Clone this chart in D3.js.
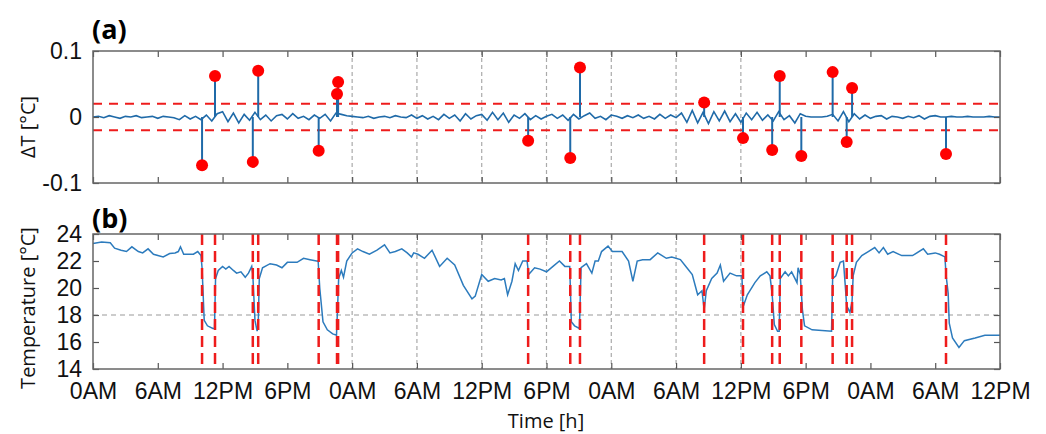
<!DOCTYPE html>
<html>
<head>
<meta charset="utf-8">
<script src="https://cdn.jsdelivr.net/npm/d3@7"></script>
<style>
  html, body { margin: 0; padding: 0; background: #fff; }
  svg { display: block; }
  .tick text { font-family: "Liberation Sans", Arial, sans-serif; font-size: 23px; fill: #111; }
  .tick line { stroke: #555; stroke-width: 1.2; }
</style>
</head>
<body>
<svg id="chart" width="1046" height="434"></svg>
<script>
// ---------------- DATA ----------------
const xTickHours = [0, 6, 12, 18, 24, 30, 36, 42, 48, 54, 60, 66, 72, 78, 84];
const xTickLabels = ["0AM", "6AM", "12PM", "6PM", "0AM", "6AM", "12PM", "6PM", "0AM", "6AM", "12PM", "6PM", "0AM", "6AM", "12PM"];
const gridHours = [24, 30, 36, 42, 48, 54, 60];

const dtTicks = [-0.1, 0, 0.1];
const dtTickLabels = ["-0.1", "0", "0.1"];
const dtThresholds = [0.02, -0.02];

const tempTicks = [14, 16, 18, 20, 22, 24];
const tempRefLine = [18];

// detected events: hour and ΔT peak
const eventHours = [10.1, 11.3, 14.8, 15.3, 20.9, 22.6, 22.7, 40.3, 44.2, 45.1, 56.6, 60.2, 62.9, 63.6, 65.6, 68.5, 69.8, 70.3, 79.0];
const eventDelta = [-0.073, 0.062, -0.068, 0.070, -0.051, 0.035, 0.053, -0.036, -0.062, 0.075, 0.022, -0.032, -0.050, 0.062, -0.059, 0.068, -0.038, 0.044, -0.056];

// ΔT background trace, one value every half hour from 0h to 84h
const deltaValues = [
  0, 0.001, -0.001, 0.002, 0, -0.002, 0.001, 0, 0.002, -0.001, 0, 0.001, -0.002, 0.001, 0, -0.001, -0.004, 0.002, -0.003, 0.001,
  -0.004, 0.003, -0.006, 0.005, 0.008, -0.007, 0.006, -0.009, 0.004, -0.005, 0.007, -0.004, 0.003, -0.006, 0.002, 0.004, -0.003, 0.005, -0.002, 0.001, -0.004, 0.003, -0.002, 0.004, -0.006,
  0.006, 0.004, 0.002, 0.001, 0, -0.001, 0.001, -0.002, 0, 0.001, -0.001, 0.002, 0, -0.001, 0.003, -0.002,
  0.002, -0.003, 0.001, -0.004, 0.004, -0.002, 0.003, -0.006, 0.005, -0.003, 0.002, 0.004, -0.005, 0.007, -0.004, 0.006, -0.008, 0.003, -0.002, 0.005, -0.004, 0.002, -0.003, 0.001, 0.004, -0.002, 0.003, -0.005,
  0.004, -0.003, 0.002, 0.006, -0.002, 0.001, -0.004, 0.003, 0.001, -0.002, 0.002, -0.001, 0.003, -0.002, 0.001, -0.003, 0.004, -0.002, 0.003, -0.001,
  0.006, -0.008, 0.010, -0.009, 0.007, -0.010, 0.008, -0.006, 0.009, -0.007, 0.005, -0.008, 0.006, -0.004, 0.007, -0.005, 0.003, -0.006, 0.008, -0.004, 0.002, -0.009, 0.005, 0.001, 0, 0, 0, 0.001, 0.004, -0.006, 0.008, -0.007, 0.005, -0.003,
  0.003, -0.002, 0.001, 0.002, -0.003, 0.001, 0, -0.002, 0.001, -0.001, 0.002, -0.003, 0.001, 0.002, 0, 0, 0.001, 0, 0, 0.001, 0, 0, 0, 0.001, 0, 0
];
const deltaHours = deltaValues.map((_, i) => i * 0.5);

// temperature trace
const tempHours = [
  0, 0.8, 1.6, 2.0, 2.6, 3.1, 3.6, 4.2, 4.6, 5.1, 5.6, 6.5, 7.1, 7.6, 7.9, 8.1, 8.4, 9.3, 9.7, 10.0,
  10.1, 10.3, 10.6, 11.1, 11.25, 11.35, 11.6, 12.0, 12.3, 12.6, 13.0, 13.3, 13.7, 14.1, 14.4, 14.7, 14.8,
  15.0, 15.2, 15.3, 15.4, 15.7, 16.4, 17.0, 17.5, 18.0, 18.9, 19.5, 20.1, 20.7, 20.85, 21.0, 21.3, 21.7,
  22.2, 22.55, 22.65, 22.75, 23.0, 23.2, 23.5, 24.0, 24.5, 25.0, 25.6, 26.3, 27.0, 27.5, 28.0, 28.6,
  29.1, 29.5, 29.7, 30.1, 30.7, 31.4, 32.1, 32.8, 33.5, 34.3, 35.1, 35.4, 36.0, 36.6, 37.2, 37.8, 38.1,
  38.4, 38.8, 39.1, 39.4, 39.8, 40.2, 40.35, 40.9, 41.4, 42.0, 42.6, 43.2, 43.7, 44.15, 44.3, 44.6, 45.05,
  45.2, 45.7, 46.2, 46.5, 46.8, 47.1, 47.7, 48.1, 49.0, 49.6, 50.0, 50.4, 50.9, 51.6, 52.3, 53.1, 53.6,
  54.4, 55.0, 55.5, 56.0, 56.4, 56.6, 56.8, 57.3, 57.8, 58.1, 58.4, 59.0, 59.6, 60.1, 60.2, 60.6, 61.3,
  61.8, 62.4, 62.7, 62.9, 63.1, 63.4, 63.55, 63.65, 64.1, 64.4, 64.7, 65.2, 65.3, 65.5, 65.7, 65.9, 66.6,
  68.4, 68.5, 68.8, 69.2, 69.5, 69.65, 69.8, 70.1, 70.3, 70.4, 70.7, 71.2, 71.8, 72.4, 72.8, 73.2, 73.6,
  74.1, 74.9, 75.9, 76.9, 77.3, 78.0, 78.4, 78.9, 79.0, 79.2, 79.3, 79.6, 80.2, 80.7, 81.7, 82.6, 84
];
const tempValues = [
  23.3, 23.4, 23.35, 22.95, 22.8, 22.7, 23.05, 22.7, 22.6, 22.9, 22.5, 22.3, 22.55, 22.6, 22.7, 23.05, 22.5, 22.5, 22.7, 22.4,
  21.5, 17.6, 17.2, 17.0, 17.0, 20.7, 21.3, 21.6, 21.4, 21.6, 21.3, 21.1, 21.2, 20.8, 21.1, 21.6, 21.0,
  17.6, 16.8, 17.2, 20.7, 21.5, 21.8, 21.7, 21.5, 21.9, 21.9, 22.2, 22.1, 22.0, 22.0, 20.0, 17.5, 16.9,
  16.6, 16.5, 18.5, 20.7, 21.3, 20.8, 22.0, 22.6, 22.9, 22.7, 22.5, 22.8, 23.2, 22.6, 22.7, 22.9,
  22.6, 22.3, 22.6, 22.5, 22.2, 22.8, 21.6, 22.2, 21.7, 20.2, 19.2, 19.4, 21.0, 20.5, 20.7, 20.6, 20.7,
  19.5, 20.5, 21.8, 21.3, 22.0, 22.0, 21.0, 21.5, 21.4, 21.2, 21.6, 22.0, 21.6, 21.6, 17.5, 17.2, 17.0,
  21.5, 21.8, 21.1, 22.0, 22.0, 22.7, 23.1, 22.7, 22.7, 22.0, 20.5, 22.0, 22.1, 22.1, 22.6, 22.2, 22.3,
  22.1, 21.5, 21.0, 19.5, 19.8, 18.4, 19.8, 20.7, 21.1, 21.7, 20.5, 21.1, 20.9, 20.9, 18.6, 19.5, 20.4,
  20.9, 21.2, 20.9, 19.5, 17.3, 16.8, 16.8, 20.7, 21.2, 20.9, 21.2, 20.4, 21.5, 21.0, 18.4, 17.2, 16.9,
  16.8, 20.7, 20.9, 21.9, 22.0, 20.4, 18.7, 18.2, 19.0, 20.9, 21.9, 22.4, 22.7, 23.0, 22.6, 23.0, 22.5,
  22.7, 22.4, 22.4, 22.9, 22.5, 22.6, 22.5, 22.3, 21.0, 19.6, 17.4, 16.3, 15.6, 16.1, 16.3, 16.5, 16.5
];

// ---------------- DRAW ----------------
const svg = d3.select("#chart");
svg.append("rect").attr("width", 1046).attr("height", 434).attr("fill", "#fff");

const L = 93, R = 1000;
const x = d3.scaleLinear().domain([0, 84]).range([L, R]);
const yA = d3.scaleLinear().domain([-0.1, 0.1]).range([183, 51]);
const yB = d3.scaleLinear().domain([14, 24]).range([369, 234]);

const blue = "#2c7bbd";
const blueDark = "#1f6aa8";
const red = "#ee1c1c";

function panelGrid(y) {
  const [y0, y1] = y.range();
  svg.append("g").selectAll("line").data(gridHours).enter().append("line")
    .attr("x1", d => x(d)).attr("x2", d => x(d))
    .attr("y1", y1).attr("y2", y0)
    .attr("stroke", "#aaa").attr("stroke-width", 1.2).attr("stroke-dasharray", "4,3");
}

function panelAxes(y, showXLabels, yTickVals, yTickFmt) {
  const [y0, y1] = y.range();
  const g = svg.append("g");
  const xb = d3.axisBottom(x).tickValues(xTickHours).tickSizeInner(-6).tickSizeOuter(0).tickPadding(14)
    .tickFormat((d, i) => showXLabels ? xTickLabels[i] : "");
  g.append("g").attr("transform", `translate(0,${y0})`).call(xb).call(s => s.select(".domain").remove());
  const xt = d3.axisTop(x).tickValues(xTickHours).tickSizeInner(-6).tickSizeOuter(0).tickFormat("");
  g.append("g").attr("transform", `translate(0,${y1})`).call(xt).call(s => s.select(".domain").remove());
  const yl = d3.axisLeft(y).tickValues(yTickVals).tickSizeInner(-6).tickSizeOuter(0).tickPadding(11)
    .tickFormat(yTickFmt);
  g.append("g").attr("transform", `translate(${L},0)`).call(yl).call(s => s.select(".domain").remove());
  const yr = d3.axisRight(y).tickValues(yTickVals).tickSizeInner(-6).tickSizeOuter(0).tickFormat("");
  g.append("g").attr("transform", `translate(${R},0)`).call(yr).call(s => s.select(".domain").remove());
  g.append("rect").attr("x", L).attr("y", y1).attr("width", R - L).attr("height", y0 - y1)
    .attr("fill", "none").attr("stroke", "#666").attr("stroke-width", 1.5);
}

// ---- Panel (a) ----
panelGrid(yA);
svg.append("g").selectAll("line").data(dtThresholds).enter().append("line")
  .attr("x1", L).attr("x2", R).attr("y1", d => yA(d)).attr("y2", d => yA(d))
  .attr("stroke", red).attr("stroke-width", 2).attr("stroke-dasharray", "9,7");
svg.append("path").datum(deltaHours.map((h, i) => [h, deltaValues[i]]))
  .attr("fill", "none").attr("stroke", blueDark).attr("stroke-width", 1.6)
  .attr("d", d3.line().x(d => x(d[0])).y(d => yA(d[1])));
svg.append("g").selectAll("line").data(eventHours).enter().append("line")
  .attr("x1", d => x(d)).attr("x2", d => x(d))
  .attr("y1", yA(0)).attr("y2", (d, i) => yA(eventDelta[i]))
  .attr("stroke", blueDark).attr("stroke-width", 2);
svg.append("g").selectAll("circle").data(eventHours).enter().append("circle")
  .attr("cx", d => x(d)).attr("cy", (d, i) => yA(eventDelta[i])).attr("r", 6)
  .attr("fill", "#ff0000");
panelAxes(yA, false, dtTicks, (d, i) => dtTickLabels[i]);

// ---- Panel (b) ----
panelGrid(yB);
svg.append("g").selectAll("line").data(tempRefLine).enter().append("line")
  .attr("x1", L).attr("x2", R).attr("y1", d => yB(d)).attr("y2", d => yB(d))
  .attr("stroke", "#999").attr("stroke-width", 1.2).attr("stroke-dasharray", "5,4");
svg.append("path").datum(tempHours.map((h, i) => [h, tempValues[i]]))
  .attr("fill", "none").attr("stroke", blue).attr("stroke-width", 1.5)
  .attr("d", d3.line().x(d => x(d[0])).y(d => yB(d[1])));
svg.append("g").selectAll("line").data(eventHours).enter().append("line")
  .attr("x1", d => x(d)).attr("x2", d => x(d))
  .attr("y1", yB.range()[1]).attr("y2", yB.range()[0])
  .attr("stroke", red).attr("stroke-width", 2.5).attr("stroke-dasharray", "11,6");
panelAxes(yB, true, tempTicks, d3.format("d"));

// ---- Labels ----
const labFont = '"Open Sans", "DejaVu Sans", sans-serif';
svg.append("text").attr("x", 92).attr("y", 39).text("(a)")
  .attr("font-family", labFont).attr("font-weight", "bold").attr("font-size", 27).attr("fill", "#000");
svg.append("text").attr("x", 92).attr("y", 228).text("(b)")
  .attr("font-family", labFont).attr("font-weight", "bold").attr("font-size", 27).attr("fill", "#000");
svg.append("text").attr("transform", "translate(35,127) rotate(-90)").attr("text-anchor", "middle")
  .text("ΔT [°C]").attr("font-family", labFont).attr("font-size", 20).attr("fill", "#111");
svg.append("text").attr("transform", "translate(35,308) rotate(-90)").attr("text-anchor", "middle")
  .text("Temperature [°C]").attr("font-family", labFont).attr("font-size", 20).attr("fill", "#111");
svg.append("text").attr("x", 546).attr("y", 428).attr("text-anchor", "middle")
  .text("Time [h]").attr("font-family", labFont).attr("font-size", 20).attr("fill", "#111");
</script>
</body>
</html>
